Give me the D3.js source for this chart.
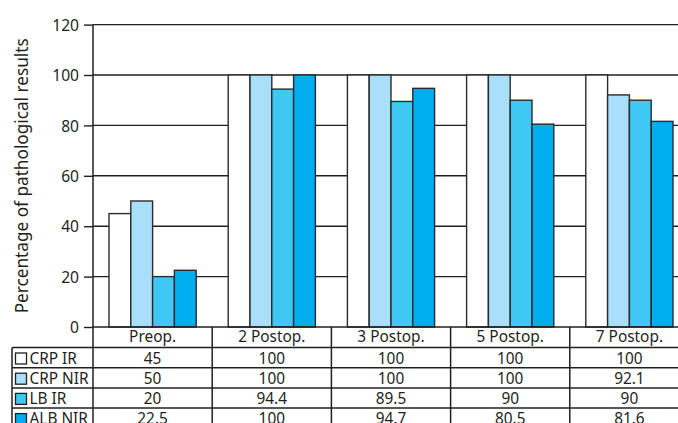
<!DOCTYPE html>
<html><head><meta charset="utf-8">
<script src="https://cdn.jsdelivr.net/npm/d3@7"></script>
<style>
html,body{margin:0;padding:0;background:#fff;overflow:hidden}
text{font-family:"Noto Sans","Open Sans",sans-serif;fill:#231f20}
</style></head>
<body>
<svg id="c" width="678" height="423"></svg>
<script>
const categories = ["Preop.", "2 Postop.", "3 Postop.", "5 Postop.", "7 Postop."];
const seriesNames = ["CRP IR", "CRP NIR", "LB IR", "ALB NIR"];
const crpIR  = [45, 100, 100, 100, 100];
const crpNIR = [50, 100, 100, 100, 92.1];
const lbIR   = [20, 94.4, 89.5, 90, 90];
const albNIR = [22.5, 100, 94.7, 80.5, 81.6];
const yTicks = [0, 20, 40, 60, 80, 100, 120];
const colors = ["#ffffff", "#aadff9", "#40c8f4", "#00adef"];

(function () {
const seriesValues = [crpIR, crpNIR, lbIR, albNIR];
const tableLabels = seriesValues.map(a => a.map(v => String(v)));

const svg = d3.select("#c");
const mLeft = 93, mRight = 689, mTop = 24.6, base = 327;
const ink = "#231f20";
const fs = "15.4px";

const x = d3.scaleBand().domain(categories).range([mLeft, mRight]).paddingInner(0).paddingOuter(0);
const y = d3.scaleLinear().domain([0, 120]).range([base, mTop]);
const inner = d3.scaleBand().domain(seriesNames).range([16, x.bandwidth() - 16]).padding(0);

// gridlines
svg.append("g").selectAll("line").data(yTicks.filter(t => t > 0)).join("line")
  .attr("x1", mLeft).attr("x2", mRight)
  .attr("y1", d => y(d)).attr("y2", d => y(d))
  .attr("stroke", ink).attr("stroke-width", 1.4);

// bars
const groups = svg.append("g").selectAll("g").data(categories).join("g")
  .attr("transform", d => `translate(${x(d)},0)`);
groups.selectAll("rect").data((c, i) => seriesNames.map((s, k) => ({s, k, v: seriesValues[k][i]})))
  .join("rect")
  .attr("x", d => inner(d.s))
  .attr("width", inner.bandwidth())
  .attr("y", d => y(d.v))
  .attr("height", d => base - y(d.v))
  .attr("fill", d => colors[d.k])
  .attr("stroke", "#2b2b2b").attr("stroke-width", 1.4);

// y axis
const yAxis = d3.axisLeft(y).tickValues(yTicks).tickSize(9).tickPadding(5);
const ag = svg.append("g").attr("transform", `translate(${mLeft},0)`).call(yAxis);
ag.select(".domain").remove();
ag.selectAll("line").attr("stroke", ink).attr("stroke-width", 1.4);
ag.selectAll("text").style("font-size", "15.6px").attr("fill", ink).attr("dy", "0.36em");

// y axis vertical line, extends through table
svg.append("line").attr("x1", mLeft).attr("x2", mLeft).attr("y1", mTop).attr("y2", 423)
  .attr("stroke", ink).attr("stroke-width", 1.5);

// y title
svg.append("text")
  .attr("transform", `translate(27.5,175.8) rotate(-90)`)
  .attr("text-anchor", "middle")
  .style("font-size", "17.2px")
  .text("Percentage of pathological results");

// table
const rowH = 20.2;
const legendLeft = 12;
const rowY = i => base + 0.3 + rowH * (i + 1);

svg.append("line").attr("x1", mLeft).attr("x2", mRight).attr("y1", base).attr("y2", base)
  .attr("stroke", ink).attr("stroke-width", 1.6);
svg.append("g").selectAll("line").data(seriesNames.map((s, i) => i)).join("line")
  .attr("x1", legendLeft).attr("x2", mRight)
  .attr("y1", i => rowY(i)).attr("y2", i => rowY(i))
  .attr("stroke", ink).attr("stroke-width", 1.5);
svg.append("line").attr("x1", legendLeft).attr("x2", legendLeft).attr("y1", rowY(0)).attr("y2", 423)
  .attr("stroke", ink).attr("stroke-width", 1.5);
svg.append("g").selectAll("line").data(categories.slice(1)).join("line")
  .attr("x1", d => x(d)).attr("x2", d => x(d)).attr("y1", base).attr("y2", 423)
  .attr("stroke", ink).attr("stroke-width", 1.5);

svg.append("g").selectAll("text").data(categories).join("text")
  .attr("x", d => x(d) + x.bandwidth() / 2).attr("y", base + 15)
  .attr("text-anchor", "middle").style("font-size", fs).text(d => d);

const leg = svg.append("g").selectAll("g").data(seriesNames).join("g");
leg.append("rect")
  .attr("x", 15.5).attr("y", (d, i) => rowY(i) + 5.5)
  .attr("width", 11).attr("height", 11)
  .attr("fill", (d, i) => colors[i]).attr("stroke", ink).attr("stroke-width", 1.3);
leg.append("text")
  .attr("x", 29.5).attr("y", (d, i) => rowY(i) + 16)
  .style("font-size", fs).text(d => d);

seriesNames.forEach((s, k) => {
  svg.append("g").selectAll("text").data(categories).join("text")
    .attr("x", d => x(d) + x.bandwidth() / 2).attr("y", rowY(k) + 16)
    .attr("text-anchor", "middle").style("font-size", fs)
    .text((d, i) => tableLabels[k][i]);
});
})();
</script>
</body></html>
